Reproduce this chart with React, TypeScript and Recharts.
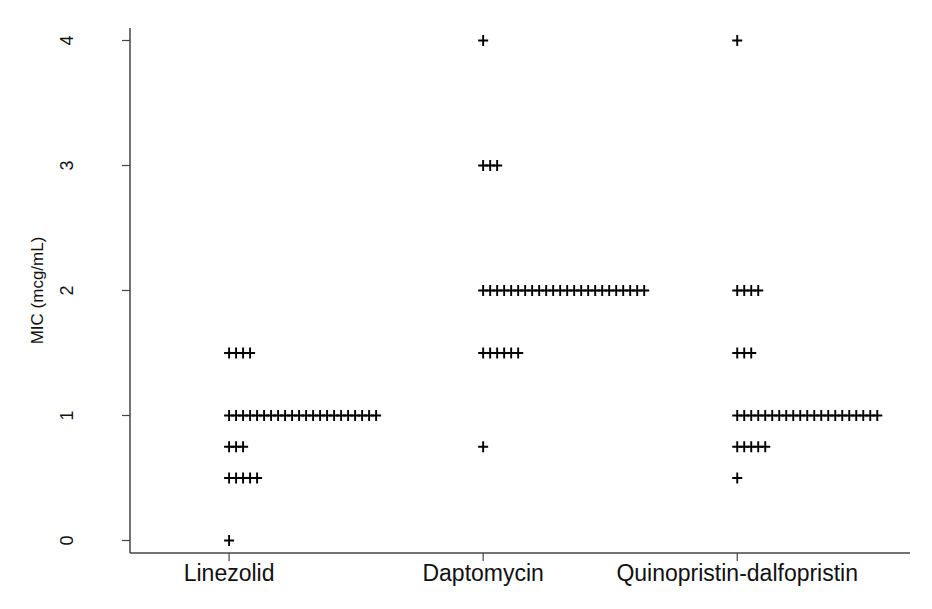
import React from 'react';
import { ScatterChart, Scatter, XAxis, YAxis } from 'recharts';

const categories = ['Linezolid', 'Daptomycin', 'Quinopristin-dalfopristin'];
const micLevels = [0, 0.5, 0.75, 1, 1.5, 2, 3, 4];
const linezolidCounts = [1, 5, 3, 22, 4, 0, 0, 0];
const daptomycinCounts = [0, 0, 1, 0, 6, 24, 3, 1];
const quinopristinCounts = [0, 1, 5, 21, 3, 4, 0, 1];
const yTicks = [0, 1, 2, 3, 4];
const xTicks = [0, 1, 2];

// horizontal step between stacked markers, in category units
const STEP = 7 / 254;

const countsByCategory = [linezolidCounts, daptomycinCounts, quinopristinCounts];
const points: { x: number; y: number }[] = [];
countsByCategory.forEach((counts, ci) => {
  counts.forEach((n, k) => {
    for (let j = 0; j < n; j++) {
      points.push({ x: ci + j * STEP, y: micLevels[k] });
    }
  });
});

const FONT = '"Liberation Sans", Arial, Helvetica, sans-serif';
const AXIS = '#444';

const Plus = (props: any) => {
  const { cx, cy } = props;
  if (cx == null || cy == null) return null;
  return (
    <path
      d={`M${cx - 5},${cy}H${cx + 5}M${cx},${cy - 5.5}V${cy + 5.5}`}
      stroke="#000"
      strokeWidth={1.9}
      fill="none"
    />
  );
};

const YTick = (props: any) => {
  const { x, y, payload } = props;
  const cx = x - 5;
  return (
    <text
      x={cx}
      y={y}
      transform={`rotate(-90, ${cx}, ${y})`}
      textAnchor="middle"
      dominantBaseline="central"
      fontFamily={FONT}
      fontSize={18}
      fill="#111"
    >
      {payload.value}
    </text>
  );
};

const YTitle = (props: any) => {
  const vb = props.viewBox || {};
  const x = (vb.x || 0) + 37;
  const y = (vb.y || 0) + (vb.height || 0) / 2;
  return (
    <text
      x={x}
      y={y}
      transform={`rotate(-90, ${x}, ${y})`}
      textAnchor="middle"
      dominantBaseline="central"
      fontFamily={FONT}
      fontSize={17}
      fill="#111"
    >
      MIC (mcg/mL)
    </text>
  );
};

export default function App() {
  return (
    <div style={{ position: 'absolute', left: 0, top: 0, background: '#fff' }}>
      <ScatterChart
        width={932}
        height={609}
        margin={{ top: 28, right: 22, bottom: 16, left: 0 }}
      >
        <XAxis
          type="number"
          dataKey="x"
          domain={[-0.39, 2.68]}
          ticks={xTicks}
          allowDataOverflow
          tickFormatter={(v: number) => categories[Math.round(v)] ?? ''}
          height={40}
          tickSize={8}
          tickMargin={4}
          axisLine={{ stroke: AXIS, strokeWidth: 1.5 }}
          tickLine={{ stroke: AXIS, strokeWidth: 1.2 }}
          tick={{ fontFamily: FONT, fontSize: 23, fill: '#111' }}
          interval={0}
        />
        <YAxis
          type="number"
          dataKey="y"
          domain={[-0.1, 4.1]}
          ticks={yTicks}
          allowDataOverflow
          width={130}
          tickSize={8}
          tickMargin={50}
          axisLine={{ stroke: AXIS, strokeWidth: 1.5 }}
          tickLine={{ stroke: AXIS, strokeWidth: 1.2 }}
          tick={<YTick />}
          label={{ content: <YTitle /> }}
          interval={0}
        />
        <Scatter data={points} shape={<Plus />} isAnimationActive={false} />
      </ScatterChart>
    </div>
  );
}
